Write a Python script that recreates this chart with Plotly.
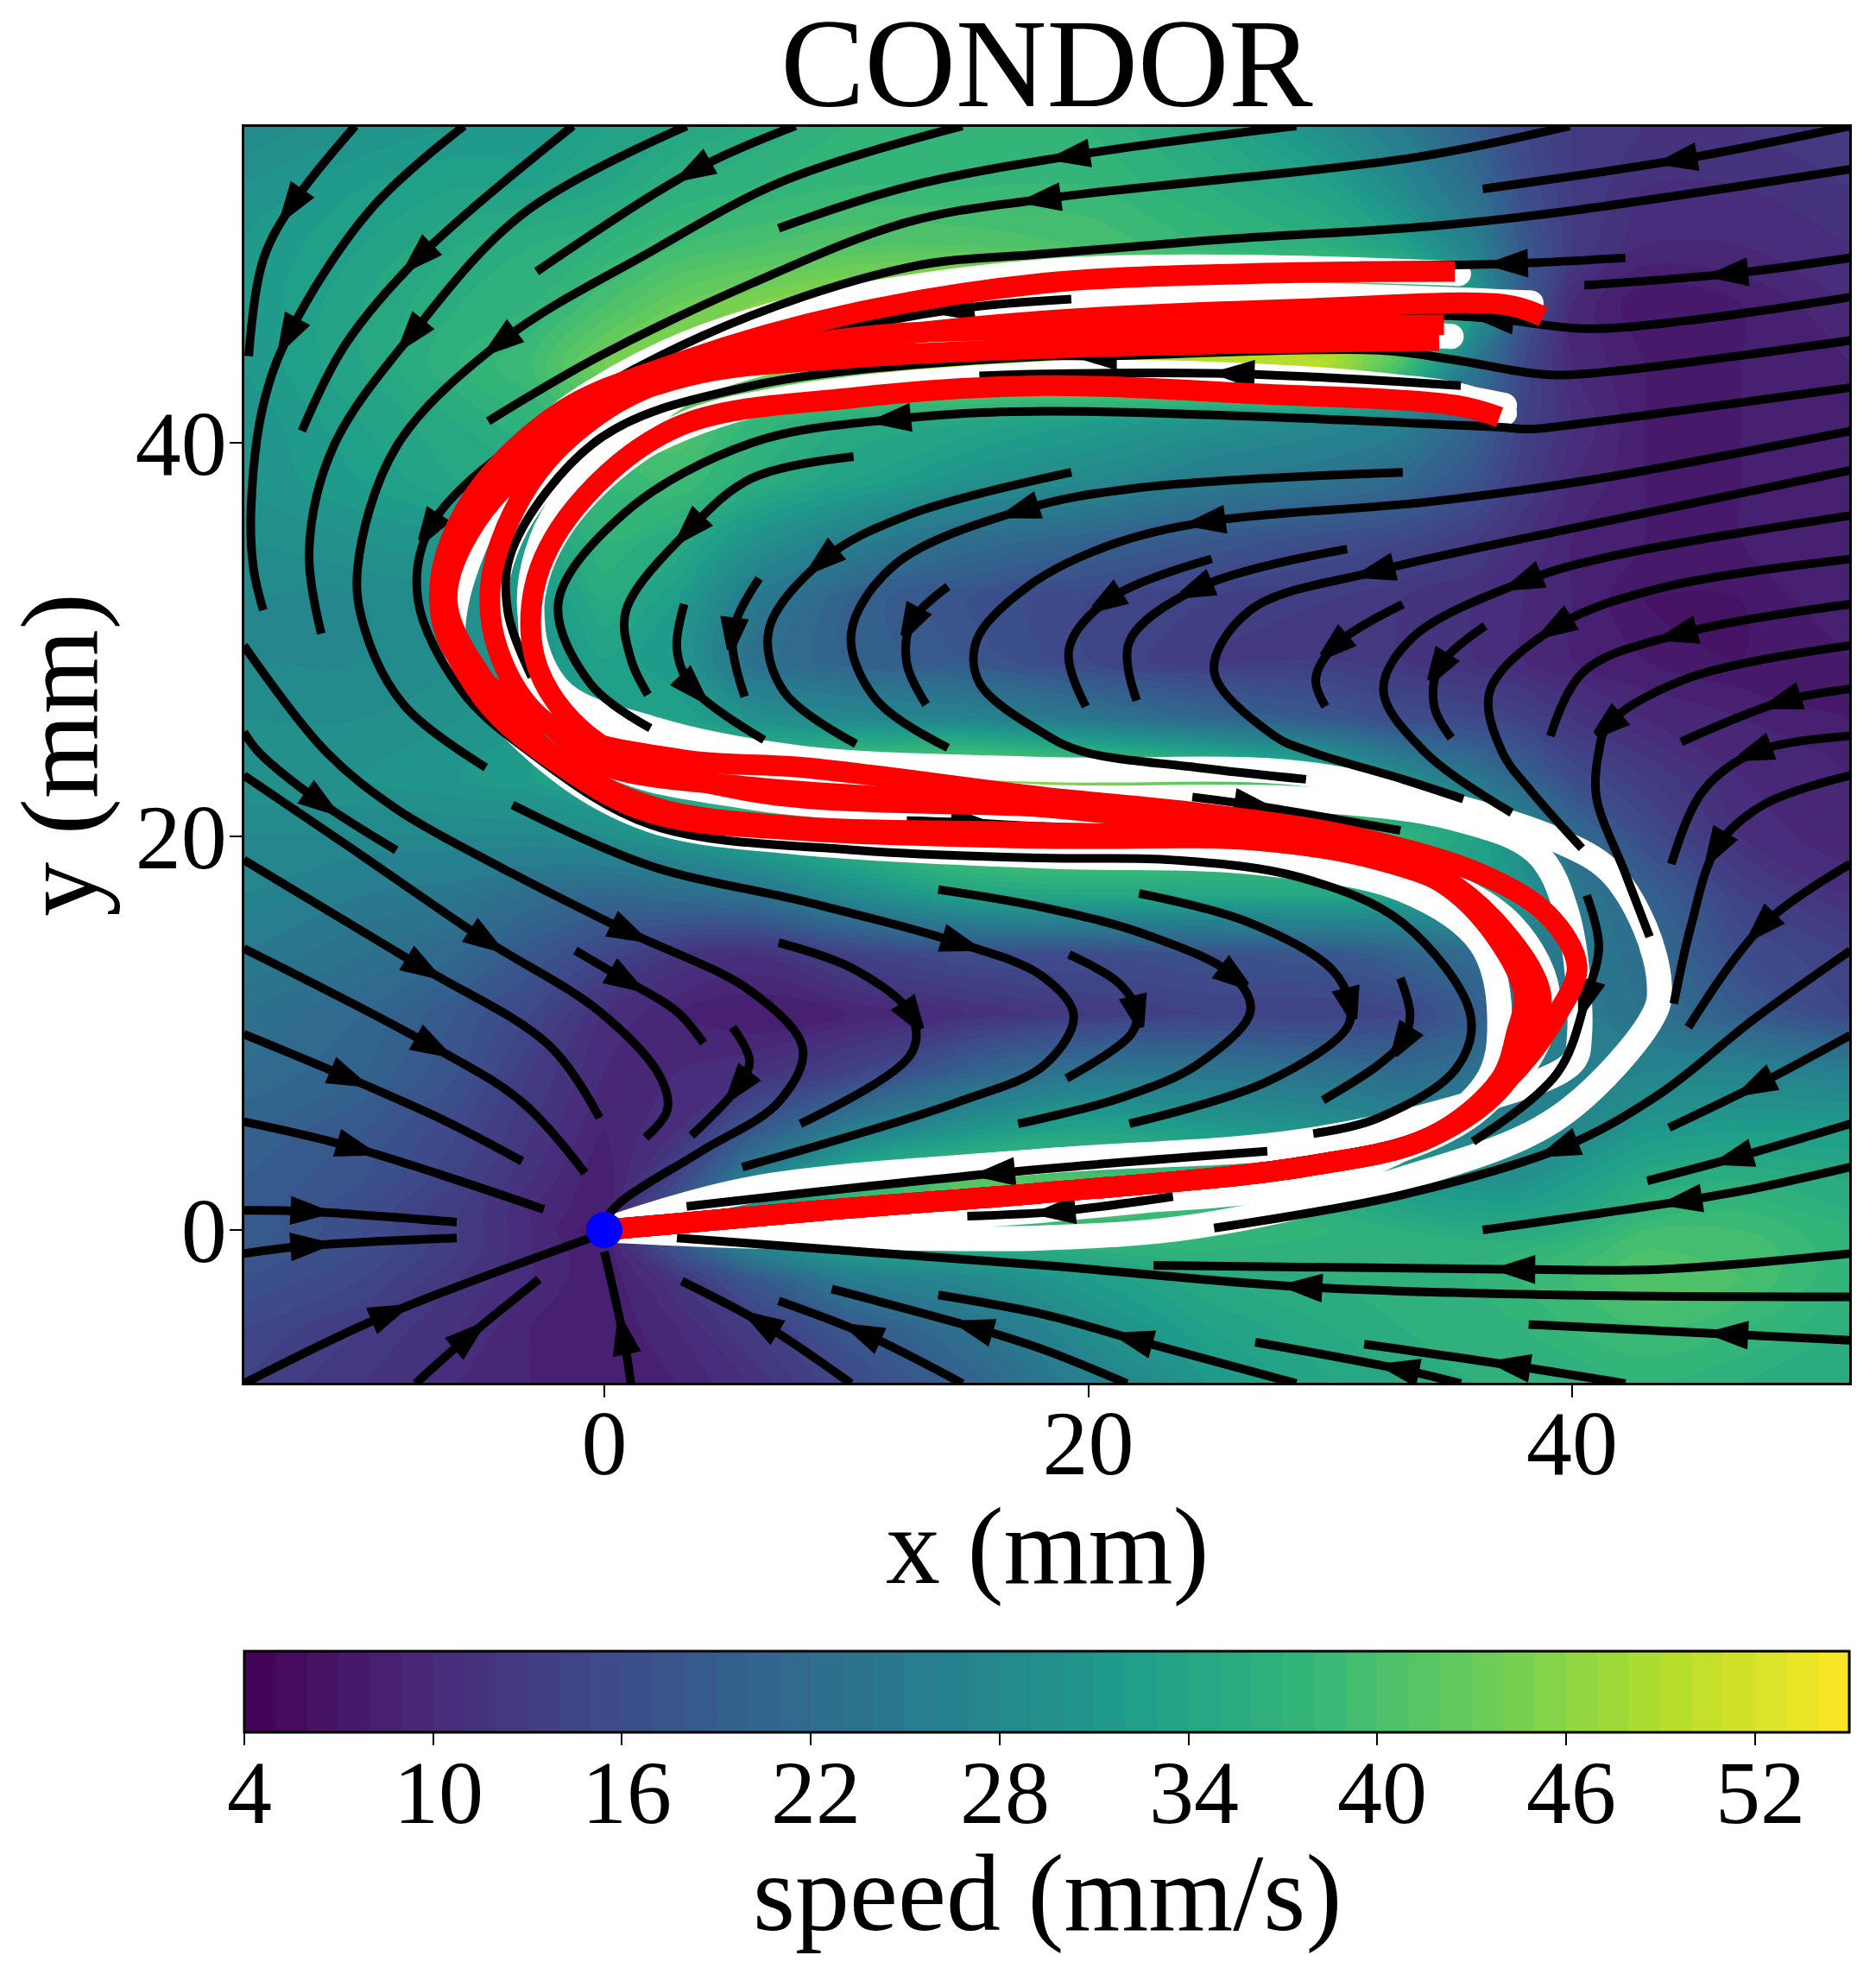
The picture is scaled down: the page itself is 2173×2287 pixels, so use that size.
import math
import plotly.graph_objects as go

# ── Speed field (mm/s) ────────────────────────────────────────────────────────
x_grid = [-15, -10, -6, -3, 0, 3, 6, 10, 15, 20, 25, 30, 33, 36, 38, 40, 43, 47, 51.5]
y_grid = [-7.8, -5, -2.5, -1, 0, 1, 2.5, 5, 8, 11, 14, 17, 20, 23, 26, 29, 32, 35, 38, 41, 44, 47, 50, 53, 56.1]
speed = [
    [14, 12, 10, 9, 8, 9, 11, 15, 20, 26, 31, 34, 35, 36, 36, 36, 37, 36, 35],
    [15, 13, 11, 9, 8, 10, 13, 18, 23, 29, 33, 35, 36, 37, 37, 38, 39, 38, 36],
    [17, 15, 12, 10, 8, 12, 18, 25, 28, 32, 35, 36, 37, 37, 38, 39, 41, 40, 37],
    [18, 16, 13, 10, 8, 17, 26, 32, 34, 36, 37, 37, 37, 37, 37, 38, 40, 40, 37],
    [19, 16, 13, 10, 7, 20, 30, 37, 38, 38, 38, 37, 36, 35, 35, 36, 39, 39, 37],
    [19, 16, 13, 10, 8, 18, 30, 38, 40, 40, 38, 36, 34, 33, 33, 34, 37, 38, 36],
    [19, 17, 14, 11, 8, 15, 26, 36, 42, 40, 38, 34, 31, 30, 30, 32, 35, 36, 35],
    [20, 18, 15, 12, 9, 11, 18, 26, 31, 34, 32, 30, 28, 27, 27, 28, 31, 32, 32],
    [22, 20, 17, 13, 10, 10, 11, 14, 20, 24, 24, 23, 22, 23, 25, 26, 27, 27, 26],
    [23, 21, 18, 15, 11, 9, 8, 9, 11, 13, 14, 14, 15, 19, 23, 25, 23, 19, 15],
    [25, 23, 21, 18, 15, 12, 11, 14, 16, 16, 17, 18, 20, 22, 25, 25, 22, 16, 14],
    [27, 25, 24, 22, 21, 22, 23, 28, 33, 34, 34, 34, 33, 33, 30, 25, 20, 14, 11],
    [28, 28, 28, 28, 29, 31, 34, 38, 43, 44, 42, 40, 37, 33, 28, 22, 16, 11, 9],
    [30, 30, 31, 32, 34, 36, 40, 44, 47, 45, 42, 36, 29, 24, 20, 16, 13, 10, 9],
    [29, 29, 30, 31, 33, 33, 30, 28, 27, 24, 21, 18, 16, 15, 14, 12, 10, 9, 8],
    [28, 28, 29, 30, 33, 31, 23, 20, 18, 15, 13, 13, 12, 11, 10, 9, 8, 7, 8],
    [28, 28, 29, 31, 35, 32, 25, 20, 17, 15, 14, 13, 12, 11, 10, 9, 7, 7, 9],
    [29, 30, 31, 33, 37, 35, 30, 26, 22, 20, 18, 16, 15, 13, 11, 9, 8, 8, 9],
    [30, 32, 34, 35, 38, 39, 36, 33, 30, 28, 25, 23, 21, 17, 13, 10, 8, 8, 9],
    [30, 33, 35, 37, 40, 41, 38, 35, 34, 32, 30, 28, 26, 20, 14, 11, 8, 8, 9],
    [31, 34, 37, 39, 44, 46, 46, 46, 47, 49, 50, 49, 40, 24, 15, 10, 8, 8, 9],
    [31, 34, 36, 37, 40, 43, 45, 47, 50, 50, 48, 46, 42, 32, 18, 10, 7, 8, 10],
    [31, 33, 35, 36, 37, 39, 40, 41, 41, 40, 38, 36, 33, 26, 18, 13, 10, 10, 11],
    [30, 32, 33, 33, 34, 36, 37, 38, 38, 38, 36, 33, 28, 22, 16, 13, 11, 11, 12],
    [28, 30, 31, 31, 33, 34, 35, 37, 38, 37, 34, 29, 25, 19, 15, 13, 12, 12, 13],
]
speed_ticks = [4, 10, 16, 22, 28, 34, 40, 46, 52]
SPEED_MIN, SPEED_MAX = 4, 55

# ── Streamlines in mm, in flow order ──────────────────────────────────────────
stream_x = [
    [-10.3, -12.85, -14.1, -14.7],
    [-5.8, -9.7, -13, -14.1, -14.6, -14.5, -14.1],
    [-1.3, -7.6, -10.7, -12.5],
    [3.4, -3.4, -7.9, -11.2, -12.2, -11.7],
    [7.9, 3.8, -2.8],
    [14.8, 7.4, 1.9, -4.2, -8.6, -10.2, -9.9, -8.3, -4.9],
    [39.9, 33.5, 18.2, 12.5, 6.1, -0.2, -4.8],
    [28.6, 19.4, 12.5, 7.2],
    [51.5, 39.4, 34.1, 25.2, 18.2, 12.5, 4, -3.4, -7.2, -7.7, -5.9, -3.1, 1.9, 10.4, 18.1, 23.5, 28.8, 33, 35.8, 35.2, 32, 29.3],
    [51.5, 44.5, 36.3],
    [42.2, 37.5, 31.2],
    [51.5, 46.6, 40.5],
    [51.5, 44.7, 40.5, 36.9, 34.1, 27.9],
    [19.3, 14.6, 6.4],
    [35.4, 26.2, 18.2, 15.5],
    [51.5, 40.5, 38.6, 35.2, 32, 20.5, 18.2, 6.1, -0.2, -3.8, -4, -3],
    [51.5, 40.5, 38.3, 36.9, 18.2, 12, 6.1, 0.9, -1.9, -0.6, 1.9],
    [33, 22, 17.3, 12, 10.2, 11.2, 14.2],
    [19.3, 12.5, 9.1, 6.8, 7.4, 10.4],
    [10.3, 6.1, 3.6, 0.9, 1.1, 1.8],
    [6.4, 5.3, 5.8],
    [3.3, 3, 3.6, 6.6],
    [14.2, 12.7, 12.5, 13.3],
    [51.5, 40.7, 34.1, 25, 20.9, 17.5, 15.4, 15.5, 18.2, 19.8, 24.5, 29],
    [25.1, 20.8, 19.2, 19.9],
    [30.7, 24.5, 21.7, 22],
    [51.5, 39.4, 32, 26.7, 25.2, 27.7, 29.2, 33, 35.5],
    [33, 30.2, 29.4, 29.8],
    [51.5, 41.5, 38.1, 33.4, 32.2, 33.9, 37.5],
    [36.4, 34.5, 34.3, 35],
    [51.5, 43.6, 39.4, 36.6, 37.1, 38.3, 40.4],
    [51.5, 44.5, 40.5, 39.1],
    [51.5, 44.7, 41.5, 41.1, 41, 42.2, 43.2],
    [51.5, 48.8, 44.5],
    [51.5, 47.6, 45.4, 44.1],
    [51.5, 47.9, 46, 44.9, 44.2],
    [51.5, 47.9, 44.8],
    [51.5, 47.5, 43.6, 39.6, 33, 25.2],
    [51.5, 47.7, 44],
    [51.5, 46.8, 43.1],
    [51.5, 47.5, 44.7, 36.3],
    [51.5, 43.6, 37.8, 22.7],
    [51.5, 39.4, 29, 18.2, 3],
    [51.5, 46.6, 38.2],
    [42.2, 37.6, 31.4],
    [35.4, 33, 26.9],
    [28.6, 22, 18.2, 13.8],
    [21.6, 18.2, 15.4, 9.4],
    [14.8, 10.8, 7.2],
    [10.2, 6.6, 3.2],
    [1.1, 0.8, 0],
    [-7.8, -5.7, -2.7],
    [-14.9, -9, -0.8, 0],
    [-14.9, -12.3, -6.1],
    [-14.9, -12.3, -6.1],
    [-14.9, -10.4, -2.5],
    [-14.9, -10.7, -6.5, -3.4],
    [-14.9, -7.2, -3.4, -0.8],
    [-14.9, -7.6, -2.3, -0.2],
    [-14.9, -10.7, -5, -0.2, 2.3, 2.6, 1.7],
    [-14.9, -14.3, -11.8, -8.6],
    [-14.9, -11.5, -8.6, -4.4, 0.9, 6.1, 8.2, 7.2, 4, 0.65, -0.1],
    [-1.2, 0.8, 3, 4.1],
    [5.3, 6, 5.6, 3.6],
    [7.2, 10.4, 12.7, 12.7, 8.1],
    [-3.8, 1.9, 8.25, 14.6, 18.1, 19.4, 18.2, 14.6, 5.7],
    [13.8, 18.1, 22.4, 26, 26.7, 24.5, 21.3, 18.2, 17.1],
    [22.1, 26.7, 30.1, 30.8, 30.7, 27.5, 21.7],
    [19.2, 21.3, 22, 21.8, 19.1],
    [32.9, 33.3, 33, 32, 29.7],
    [40.6, 41.1, 40.6, 39.4, 35.9],
    [24.3, 26.7, 32.9],
    [12.5, 15, 18.1, 21.3],
    [27.4, 16.3, 3.4],
    [23.5, 18.8, 15],
]
stream_y = [
    [56.1, 52.2, 49.3, 44.4],
    [56.1, 51.8, 45.6, 41.9, 36.7, 33.6, 31.5],
    [56.1, 49.5, 45, 40.6],
    [56.1, 51.6, 45.6, 39.8, 34.6, 30.3],
    [56.1, 53.9, 48.7],
    [56.1, 53.3, 49.7, 45.2, 39.8, 33.6, 30.5, 26.7, 23.5],
    [56.1, 54.5, 52.4, 51.2, 48.1, 44.4, 41.1],
    [56.1, 54.6, 53, 50.9],
    [53.9, 51.7, 51, 50.3, 49.6, 48.9, 45.4, 40.2, 35.7, 32, 27.4, 24.3, 20.6, 19.3, 18.9, 18.8, 17.9, 15.6, 10.9, 8.2, 5.7, 4.9],
    [56.1, 54.4, 52.9],
    [49.4, 49.1, 49],
    [49.4, 48.6, 48],
    [47.4, 46.2, 45.8, 46.3, 46.5, 46.5],
    [47.3, 46.8, 44.9],
    [42.9, 43.5, 43.5, 43.4],
    [45.2, 43.5, 43.5, 44.2, 44.7, 44.4, 44.4, 42.9, 40.2, 34.6, 31.5, 28.1],
    [42.8, 41, 40.7, 40.8, 41.6, 41.2, 40, 36.5, 31.9, 27.8, 25.5],
    [38.5, 37.7, 36.6, 33.8, 30.3, 27, 24.5],
    [38.5, 36.3, 34.1, 30.5, 27.4, 24.7],
    [39.3, 38.2, 35.7, 31.5, 29, 27.2],
    [33.1, 30.3, 27.1],
    [31.8, 29.5, 27.6, 24.9],
    [32.7, 30.9, 28.8, 26.7],
    [40.6, 38.1, 37, 36, 34.8, 32.7, 30, 27.8, 25.2, 24.3, 23.5, 22.9],
    [34.1, 32, 29.5, 26.6],
    [34.6, 32.6, 29.9, 26.9],
    [38.6, 35.5, 33.5, 31.5, 28.4, 25.1, 24.3, 22.9, 21.9],
    [31.8, 29.7, 28, 26.6],
    [36.3, 34.2, 33, 30.1, 27.4, 24.3, 21.2],
    [30.7, 28.6, 26.6, 25],
    [34.1, 32.6, 30.7, 27.4, 24.3, 22.3, 19.4],
    [31.8, 30.3, 28.4, 25.1],
    [29.7, 28, 25.7, 24.3, 22, 18.1, 14.9],
    [27.5, 26.9, 24.8],
    [25.1, 24.3, 22.3, 18.6],
    [23.1, 21.6, 19.5, 15.4, 11.5],
    [18.6, 15.5, 10.3],
    [14.2, 10.7, 6.9, 4.2, 1.8, 0.1],
    [9.9, 7.4, 5.2],
    [5.4, 3.7, 2.5],
    [3.2, 2.1, 1.5, 0],
    [-1.2, -2, -2, -1.8],
    [-3.4, -3.3, -2.9, -1.8, -0.4],
    [-5.6, -5.3, -4.8],
    [-7.8, -6.9, -5.8],
    [-7.8, -7.1, -5.7],
    [-7.8, -5.6, -4.3, -3.3],
    [-7.8, -6.1, -5, -3],
    [-7.8, -5.3, -3.6],
    [-7.8, -4.8, -2.6],
    [-7.8, -5.5, -1.1],
    [-7.8, -5.5, -2.5],
    [-7.8, -4.3, -0.5, -0.15],
    [-1.2, -0.8, -0.4],
    [1, 0.95, 0.4],
    [5.5, 4.2, 1.05],
    [9.95, 7.8, 5.5, 3.5],
    [14.3, 9.4, 6.5, 2.9],
    [18.8, 13.4, 9.4, 5.7],
    [23.1, 19.6, 14.8, 11.1, 7.8, 6.1, 4.7],
    [25.3, 24.3, 21.8, 19.3],
    [29.7, 24.3, 21.4, 18.5, 15.2, 12.1, 9.2, 6.5, 4, 1.4, 0.3],
    [14.2, 12.75, 11.1, 9.5],
    [10.3, 8.6, 7.4, 4.8],
    [14.6, 13.2, 10.9, 9, 5.4],
    [21.6, 18.5, 16.7, 14.6, 12.9, 10.9, 8.4, 6.5, 3.2],
    [17.3, 16.4, 15, 12.9, 11.1, 8.4, 6.7, 5.7, 5.4],
    [17.1, 15.6, 13.2, 11.5, 10.3, 7.6, 5.4],
    [14, 12.5, 11.1, 10, 7.7],
    [12.8, 10.9, 9.6, 8.4, 6.6],
    [17, 14.4, 11.9, 8, 4.5],
    [22, 21.6, 20.3],
    [20.8, 20.7, 20.5, 20.4],
    [4, 2.9, 1.2],
    [1.7, 0.95, 0.7],
]
# index of the point carrying the arrow head on each streamline
arrow_at = [
    1, 2, 1, 2, 1, 3, 2, 1, 8, 1, 1, 1, 3, 1, 1, 5, 5, 2, 2, 2, 1, 2, 1, 3, 1,
    1, 2, 1, 2, 1, 2, 1, 2, 1, 1, 2, 1, 3, 1, 1, 2, 2, 2, 1, 1, 1, 1, 2, 1, 1,
    1, 1, 1, 1, 1, 1, 1, 1, 1, 2, 2, 4, 1, 2, 2, 3, 3, 3, 2, 2, 2, 1, 1, 1, 1,
]

# ── Trajectories in mm ────────────────────────────────────────────────────────
# demonstrations (white)
demo_x = [
    [0, 6, 12.5, 18.1, 24.5, 33, 39.4, 43.4, 43.6, 43, 41.5, 39.4, 35.2, 28.8, 18.2, 8, 1.9, -1.9, -3.1, -1.9, 1, 6.1, 18.1, 26.7, 33, 37.2],
    [0, 6.1, 18.1, 28.8, 36, 40, 40.3, 39.8, 38.5, 35.2, 28.8, 18.2, 8, 2, -2, -3, -2, 1.5, 8, 18.2, 28.8, 38.3],
    [0, 9, 18.2, 30.9, 36.4, 37, 36.2, 33, 26.7, 18.2, 8, 2, -2, -6, -6.1, -3, 0.5, 6.1, 18.1, 35.3],
    [0, 6.1, 18.1, 30, 37, 39, 37.5, 33, 27, 18, 8, 0, -3, -4.5, -3, 2, 10, 18.2, 28, 35],
    [0, 9, 18.1, 30, 36, 38.4, 38.5, 37, 33, 25, 18, 6, -0.2, -2.7, -2.9, -1.2, 3.4, 11.4, 18.2, 35, 37.2],
]
demo_y = [
    [0, -0.3, -0.4, -0.4, 0.2, 2.6, 5.7, 11, 12.5, 15.4, 18.3, 19.8, 21.5, 23.2, 23.4, 24, 25.5, 27.5, 31.9, 36.7, 39.4, 41.9, 43.5, 43.4, 42.8, 41.9],
    [0, 2.1, 3.5, 4.5, 6.5, 8.5, 9.85, 16, 19.2, 20.9, 21.9, 22, 23, 24.5, 27, 32, 36.5, 41, 45.5, 47.3, 47.5, 47.1],
    [0, 0.6, 1.2, 3, 7.4, 10.9, 14.6, 17.3, 18.7, 19, 19.7, 20.8, 23.5, 29, 32, 40, 43.3, 46.2, 48.7, 48.6],
    [0, 2, 3.5, 4.5, 7, 11.5, 15.5, 18.5, 20, 21.5, 22.6, 24, 27, 32, 37, 42, 45, 45.8, 45.8, 45.4],
    [0, 0.5, 1, 3, 6, 10, 12, 15.5, 18.5, 20.5, 21, 22, 24, 28.4, 32.6, 36.7, 41, 42.7, 43.2, 42.5, 41.5],
]
# reproductions (red)
repro_x = [
    [0, 9, 18.2, 28.8, 34.1, 37.3, 39.4, 40.2, 39, 36.2, 30.9, 24.5, 18.1, 8.25, 3.2, -2.3, -4.4, -4.6, -2.3, 3.2, 11, 18.2, 28.8, 37.3, 38.8],
    [0, 9, 18.2, 28.8, 34.1, 37.3, 38.4, 38.7, 37.5, 35.2, 32, 27, 18.2, 8.25, 1.9, -1.9, -5, -6.8, -5.7, -1.9, 3.4, 10, 18.1, 26.7, 35.15],
    [0, 9, 18.2, 28.8, 34.1, 37, 37.7, 38, 36.8, 34.8, 32, 27, 18.1, 6.1, -0.2, -2.3, -6, -6.8, -5.5, -1.5, 3.5, 10, 18.2, 28.8, 34.5],
    [0, 9, 18.2, 28.8, 34.1, 37.3, 38.3, 37.5, 35.5, 33, 27, 18.1, 8, 2, -2, -5, -6.5, -5.3, -1.5, 3.4, 10, 18.2, 28.8, 34.7],
    [0, 9, 18.2, 28.8, 34.1, 37.3, 38.6, 37.3, 34.5, 30, 24, 18.1, 6, -0.2, -2.7, -2.9, -1.2, 3, 10.4, 18.1, 26.7, 35.2, 37],
]
repro_y = [
    [0, 1, 1.9, 3.2, 4.7, 7.6, 11, 13.4, 16, 18.1, 20, 21.2, 22, 23.5, 23.9, 25.7, 29.5, 33.6, 39.2, 43.7, 45.3, 46.2, 46.8, 47, 46.4],
    [0, 1, 1.9, 3.2, 4.7, 7.6, 10, 12, 14.7, 17.3, 18.8, 19.8, 19.9, 20.3, 21.2, 23.7, 27, 31.9, 36.7, 41.5, 44.2, 46.5, 48.1, 48.6, 48.7],
    [0, 1, 1.9, 3.2, 4.7, 7.6, 10, 12, 15, 17.5, 19, 20.2, 21.5, 22.5, 23.7, 25.7, 29, 32, 36.5, 41, 43.4, 44.3, 44.8, 45.1, 45.2],
    [0, 1, 1.9, 3.2, 4.7, 7.6, 11, 14, 17, 18.6, 19.8, 20.2, 20.5, 21.5, 24, 28, 32, 36, 40.5, 43.6, 45.3, 45.8, 45.9, 46],
    [0, 1, 1.9, 3.2, 4.7, 7.6, 12, 15, 18, 20, 21, 21.5, 22.3, 24.7, 28.4, 32.6, 36.7, 40.8, 42.3, 42.9, 42.5, 41.9, 41.3],
]

FONT = "Liberation Serif"
X_RANGE = [-14.88, 51.45]
Y_RANGE = [-7.76, 56.05]
PLOT_W, PLOT_H = 1859, 1455

fig = go.Figure()

fig.add_trace(go.Contour(
    x=x_grid, y=y_grid, z=speed,
    colorscale="Viridis", zmin=SPEED_MIN, zmax=SPEED_MAX,
    autocontour=False,
    contours=dict(start=SPEED_MIN, end=SPEED_MAX, size=1, coloring="fill", showlines=False),
    line=dict(width=0),
    colorbar=dict(
        orientation="h", x=0.5, xanchor="center", y=-0.2137, yanchor="top",
        lenmode="pixels", len=PLOT_W, thickness=94, xpad=0, ypad=0,
        outlinecolor="black", outlinewidth=3,
        tickmode="array", tickvals=speed_ticks, ticks="outside", ticklen=14,
        tickwidth=2, tickcolor="black", showticklabels=False,
    ),
))

for xs, ys in zip(demo_x, demo_y):
    fig.add_trace(go.Scatter(
        x=xs, y=ys, mode="lines+markers",
        line=dict(color="white", width=29, shape="spline", smoothing=1),
        marker=dict(color="white", opacity=1, size=[29] + [0] * (len(xs) - 2) + [29], line=dict(width=0)),
        showlegend=False,
    ))

for xs, ys in zip(stream_x, stream_y):
    fig.add_trace(go.Scatter(
        x=xs, y=ys, mode="lines",
        line=dict(color="black", width=10, shape="spline", smoothing=1),
        showlegend=False,
    ))

# arrow heads: direction taken from the streamline's neighbouring points
scale_x = PLOT_W / (X_RANGE[1] - X_RANGE[0])
scale_y = PLOT_H / (Y_RANGE[1] - Y_RANGE[0])
head_x, head_y, head_angle = [], [], []
for xs, ys, i in zip(stream_x, stream_y, arrow_at, strict=True):
    dx = (xs[i + 1] - xs[i - 1]) * scale_x
    dy = (ys[i + 1] - ys[i - 1]) * scale_y
    norm = math.hypot(dx, dy)
    head_x.append(xs[i] + 18 * dx / norm / scale_x)
    head_y.append(ys[i] + 18 * dy / norm / scale_y)
    head_angle.append(math.degrees(math.atan2(dx, dy)))

fig.add_trace(go.Scatter(
    x=head_x, y=head_y, mode="markers",
    marker=dict(symbol="arrow", size=34, angle=head_angle, color="black", line=dict(color="black", width=9)),
    showlegend=False,
))

for xs, ys in zip(repro_x, repro_y):
    fig.add_trace(go.Scatter(
        x=xs, y=ys, mode="lines",
        line=dict(color="red", width=24, shape="spline", smoothing=1),
        showlegend=False,
    ))

fig.add_trace(go.Scatter(
    x=[0], y=[0], mode="markers",
    marker=dict(color="blue", size=42, line=dict(width=0)),
    showlegend=False,
))

axis_style = dict(
    showgrid=False, zeroline=False, showline=True, mirror=True,
    linecolor="black", linewidth=3, ticks="outside", ticklen=14, tickwidth=2,
    tickcolor="black", tickfont=dict(family=FONT, size=106, color="black"),
    tickmode="array",
)

# colorbar labels sit closer to the bar than the colorbar itself allows
for tick in speed_ticks:
    fig.add_annotation(
        xref="paper", yref="paper", yanchor="middle", xanchor="center",
        x=(tick - SPEED_MIN) / (SPEED_MAX - SPEED_MIN), xshift=6, y=-0.3258,
        text=str(tick), showarrow=False,
        font=dict(family=FONT, size=104, color="black"),
    )
fig.add_annotation(
    xref="paper", yref="paper", yanchor="middle", xanchor="center",
    x=0.5, y=-0.407, text="speed (mm/s)", showarrow=False,
    font=dict(family=FONT, size=126, color="black"),
)
fig.add_annotation(
    xref="paper", yref="paper", yanchor="middle", xanchor="center",
    x=0.5, y=-0.1306, text="x (mm)", showarrow=False,
    font=dict(family=FONT, size=126, color="black"),
)

fig.update_layout(
    width=2173, height=2287,
    margin=dict(l=283, r=31, t=147, b=685, autoexpand=False),
    paper_bgcolor="white", plot_bgcolor="white",
    title=dict(
        text="CONDOR", x=0.5, xref="paper", xanchor="center",
        y=1, yref="paper", yanchor="bottom", pad=dict(b=24),
        font=dict(family=FONT, size=146, color="black"),
    ),
    xaxis=dict(range=X_RANGE, tickvals=[0, 20, 40], ticklabelstandoff=-38, **axis_style),
    yaxis=dict(
        range=Y_RANGE, tickvals=[0, 20, 40], ticklabelstandoff=-18,
        title=dict(text="y (mm)", font=dict(family=FONT, size=126, color="black"), standoff=10),
        **axis_style,
    ),
)

fig.write_html(
    "out.html",
    config=dict(displayModeBar=False),
    post_script="document.body.style.margin='0';",
)
